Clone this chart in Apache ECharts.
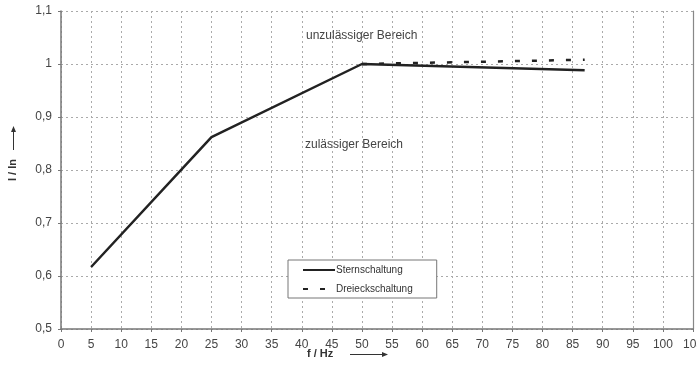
<!DOCTYPE html>
<html>
<head>
<meta charset="utf-8">
<script src="https://cdn.jsdelivr.net/npm/echarts@6/dist/echarts.min.js"></script>
<style>
html,body{margin:0;padding:0;background:#fff;}
#c{width:697px;height:374px;}
</style>
</head>
<body>
<div id="c"></div>
<script>
const seriesNames = ['Sternschaltung', 'Dreieckschaltung'];
const sternData = [[5, 0.617], [25, 0.862], [50, 1.0], [87, 0.988]];
const dreieckData = [[50, 1.0], [87, 1.008]];
const xTicks = { min: 0, max: 105, interval: 5 };
const yTicks = { min: 0.5, max: 1.1, interval: 0.1 };
const regionLabels = ['unzulässiger Bereich', 'zulässiger Bereich'];
const axisNames = ['f / Hz', 'I / In'];

const FONT = '"Liberation Sans", Arial, sans-serif';
const chart = echarts.init(document.getElementById('c'));
const fmtY = v => String(Math.round(v * 10) / 10).replace('.', ',');

chart.setOption({
  animation: false,
  backgroundColor: '#fff',
  grid: { left: 61, right: 4, top: 11, bottom: 45, containLabel: false, outerBoundsMode: 'none' },
  xAxis: {
    type: 'value', min: xTicks.min, max: xTicks.max, interval: xTicks.interval,
    axisLine: { show: true, lineStyle: { color: '#777', width: 1.5 } },
    axisTick: { show: true, length: 3, lineStyle: { color: '#777' } },
    axisLabel: { color: '#444', fontSize: 12, fontFamily: FONT, margin: 10, hideOverlap: false },
    splitLine: { show: true, lineStyle: { color: '#aaa', type: [2, 3], width: 1 } }
  },
  yAxis: [{
    type: 'value', min: yTicks.min, max: yTicks.max, interval: yTicks.interval,
    axisLine: { show: true, lineStyle: { color: '#777', width: 1.5 } },
    axisTick: { show: true, length: 3, lineStyle: { color: '#777' } },
    axisLabel: { color: '#444', fontSize: 12, fontFamily: FONT, margin: 9, formatter: fmtY },
    splitLine: { show: true, lineStyle: { color: '#aaa', type: [2, 3], width: 1 } }
  }, {
    type: 'value', position: 'right', min: yTicks.min, max: yTicks.max, interval: yTicks.interval,
    axisLine: { show: true, lineStyle: { color: '#888', width: 1.2 } },
    axisTick: { show: false }, axisLabel: { show: false }, splitLine: { show: false }
  }],
  legend: {
    orient: 'vertical', left: 288, top: 260, width: 145,
    backgroundColor: '#fff', borderColor: '#777', borderWidth: 1,
    padding: [5, 24, 4, 14], itemGap: 9, itemWidth: 32, itemHeight: 10,
    itemStyle: { color: 'transparent', borderWidth: 0, opacity: 0 },
    textStyle: { color: '#333', fontSize: 10, fontFamily: FONT, padding: [0, 0, 0, -4] },
    data: seriesNames
  },
  graphic: [
    { type: 'text', left: 306, top: 30, style: { text: regionLabels[0], fill: '#444', font: '12px ' + FONT } },
    { type: 'text', left: 305, top: 139, style: { text: regionLabels[1], fill: '#444', font: '12px ' + FONT } },
    { type: 'text', left: 307, top: 348, style: { text: axisNames[0], fill: '#333', font: 'bold 11px ' + FONT } },
    { type: 'line', shape: { x1: 350, y1: 354.5, x2: 385, y2: 354.5 }, style: { stroke: '#333', lineWidth: 1 } },
    { type: 'polygon', shape: { points: [[388, 354.5], [382, 352], [382, 357]] }, style: { fill: '#333' } },
    { type: 'text', x: 7, y: 181, rotation: Math.PI / 2, style: { text: axisNames[1], fill: '#333', font: 'bold 11px ' + FONT } },
    { type: 'line', shape: { x1: 13.5, y1: 150, x2: 13.5, y2: 130 }, style: { stroke: '#333', lineWidth: 1 } },
    { type: 'polygon', shape: { points: [[13.5, 126], [11, 132], [16, 132]] }, style: { fill: '#333' } }
  ],
  series: [
    {
      name: seriesNames[0], type: 'line', data: sternData, symbol: 'none',
      lineStyle: { color: '#222', width: 2.5 }, itemStyle: { color: '#222' }, z: 3
    },
    {
      name: seriesNames[1], type: 'line', data: dreieckData, symbol: 'none',
      lineStyle: { color: '#222', width: 2.5, type: [5, 12] }, itemStyle: { color: '#222' }, z: 2
    }
  ]
});
</script>
</body>
</html>
